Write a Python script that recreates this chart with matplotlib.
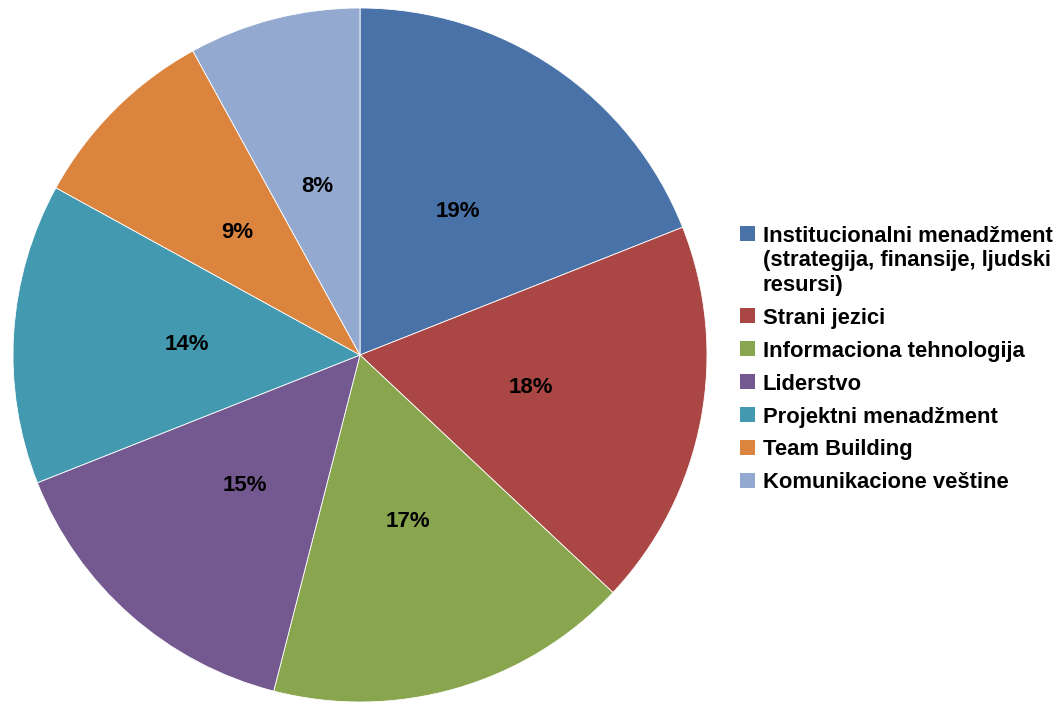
import matplotlib

matplotlib.use("Agg")
import matplotlib.pyplot as plt
from matplotlib.patches import Rectangle

plt.rc("font", family="Liberation Sans")

categories = [
    "Institucionalni menadžment\n(strategija, finansije, ljudski\nresursi)",
    "Strani jezici",
    "Informaciona tehnologija",
    "Liderstvo",
    "Projektni menadžment",
    "Team Building",
    "Komunikacione veštine",
]
shares = [19, 18, 17, 15, 14, 9, 8]
colors = ["#4872A8", "#AA4744", "#89A54E", "#735990", "#4299B0", "#DB843D", "#93A9CF"]

W, H = 1057, 705
fig = plt.figure(figsize=(W / 100, H / 100), dpi=100)
ax = fig.add_axes([13 / W, 3 / H, 694 / W, 694 / H])

wedges, texts, autotexts = ax.pie(
    shares,
    colors=colors,
    startangle=90,
    counterclock=False,
    autopct=lambda p: f"{p:.0f}%",
    pctdistance=0.5,
    wedgeprops=dict(edgecolor="white", linewidth=0.6),
    textprops=dict(fontsize=16, fontweight="bold", color="black"),
)
ax.set_xlim(-1, 1)
ax.set_ylim(-1, 1)
ax.set_aspect("equal")


def fx(x):
    return x / W


def fy(y):
    return 1 - y / H


# legend on the right, first line of each entry aligned with its swatch
line_h = 24.5
gap = 8.5
swatch = 15
y = 233.5
for wedge, label in zip(wedges, categories):
    extra = label.count("\n")
    fig.add_artist(
        Rectangle(
            (fx(740), fy(y + swatch / 2)),
            swatch / W,
            swatch / H,
            transform=fig.transFigure,
            facecolor=wedge.get_facecolor(),
            edgecolor="none",
        )
    )
    # baseline alignment uses the last line of a wrapped label
    fig.text(
        fx(763), fy(y + 8 + extra * line_h), label,
        fontsize=15.8, fontweight="bold", va="baseline", ha="left",
        linespacing=1.2,
    )
    y += extra * line_h + line_h + gap

fig.savefig("out.png", dpi=100)
